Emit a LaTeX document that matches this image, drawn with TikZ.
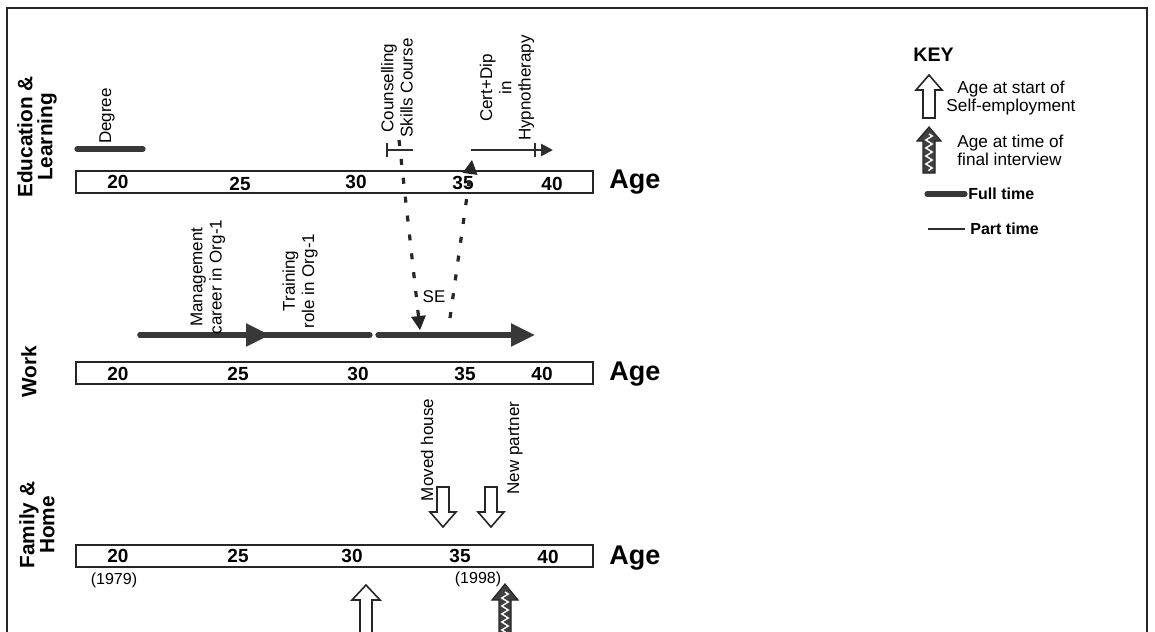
\documentclass[tikz,border=0pt]{standalone}
\usepackage{fontspec}
\setmainfont{Liberation Sans}
\usetikzlibrary{arrows.meta,decorations.pathmorphing}
\begin{document}
\begin{tikzpicture}[x=0.5pt,y=-0.5pt,
  bar/.style={draw=black!85, line width=1.3pt, fill=white},
  num/.style={font=\bfseries\fontsize{9.5}{10}\selectfont, inner sep=0pt},
  agelbl/.style={font=\bfseries\fontsize{13.5}{14}\selectfont, anchor=west, inner sep=0pt},
  sect/.style={font=\bfseries\fontsize{10.4}{10}\selectfont, rotate=90, align=center, inner sep=0pt},
  evt/.style={font=\fontsize{8.5}{9.6}\selectfont, rotate=90, align=center, inner sep=0pt},
  keytxt/.style={font=\fontsize{8.6}{9}\selectfont, anchor=west, inner sep=0pt},
  fulltime/.style={line width=2.6pt, draw=black!78, line cap=round},
  parttime/.style={line width=1.3pt, draw=black!82},
  tick/.style={line width=0.9pt, draw=black!82},
  dotarrow/.style={line width=1.6pt, dash pattern=on 3pt off 6.5pt, draw=black!85},
  hollow/.style={draw=black!85, line width=0.8pt, fill=white},
  checker/.style={draw=black!85, line width=0.6pt, fill=black!75},
  zz/.style={draw=white, line width=0.7pt, decorate, decoration={zigzag, segment length=4pt, amplitude=1.6pt}}
]
\useasboundingbox (0,0) rectangle (1155,631);
\clip (0,0) rectangle (1155,631);
% frame
\draw[line width=1.1pt, draw=black!85] (7,640) -- (7,8) -- (1147,8) -- (1147,640);

% ---------- section labels
\node[sect] (lEdu) at (37,137) {Education \&\\Learning};
\node[sect] (lWork) at (29,372) {Work};
\node[sect] (lFam) at (37,525) {Family \&\\Home};

% ---------- bars
\foreach \y/\nm in {182/edu, 373/work, 556/fam}{
  \draw[bar] (76,\y-11) rectangle (593,\y+11);
}
\node[agelbl] (ageE) at (609,182) {Age};
\node[agelbl] (ageW) at (609,374) {Age};
\node[agelbl] (ageF) at (609,558) {Age};

% numbers
\node[num] (e20) at (118,182) {20};
\node[num] (e25) at (240,184) {25};
\node[num] (e30) at (356,182) {30};
\node[num] (e35) at (463,183) {35};
\node[num] (e40) at (552,184) {40};
\node[num] (w20) at (118,374) {20};
\node[num] (w25) at (238,374) {25};
\node[num] (w30) at (358,374) {30};
\node[num] (w35) at (465,374) {35};
\node[num] (w40) at (542,374) {40};
\node[num] (f20) at (118,556) {20};
\node[num] (f25) at (238,556) {25};
\node[num] (f30) at (352,556) {30};
\node[num] (f35) at (460,556) {35};
\node[num] (f40) at (548,557) {40};

% ---------- education & learning
\coordinate (degA) at (77,149);
\coordinate (degB) at (143,149);
\draw[fulltime] (degA) -- (degB);
\node[evt] (degL) at (107,116) {Degree};

\coordinate (csA) at (386,150);
\coordinate (csB) at (413,150);
\draw[parttime] (csA) -- (csB);
\draw[tick] (387,143) -- (387,157);
\node[evt] (csL) at (397,88) {Counselling\\Skills Course};

\coordinate (cdA) at (471,150);
\coordinate (cdB) at (553,150);
\draw[parttime, -{Triangle[length=6pt,width=6pt]}] (cdA) -- (cdB);
\draw[tick] (535,143) -- (535,157);
\node[evt] (cdL) at (507,88) {Cert+Dip\\in\\Hypnotherapy};

% ---------- work
\coordinate (m1) at (140,335);
\coordinate (m1h) at (270,335);
\coordinate (m2) at (370,335);
\coordinate (s1) at (378,335);
\coordinate (s2) at (535,335);
\draw[fulltime] (m1) -- (m2);
\draw[fulltime, -{Triangle[length=12pt,width=11pt]}] (m1) -- (m1h);
\draw[fulltime, -{Triangle[length=12pt,width=11pt]}] (s1) -- (s2);
\node[evt] (mgL) at (208,277) {Management\\career in Org-1};
\node[evt] (trL) at (300,281) {Training\\role in Org-1};
\node[font=\fontsize{8.5}{9}\selectfont, inner sep=0pt] (seL) at (434,297) {SE};

% SE dotted arrows
\coordinate (seTop1) at (399,140);
\coordinate (seBot1) at (420,330);
\coordinate (seBot2) at (450,318);
\coordinate (seTop2) at (472,160);
\draw[dotarrow, -{Triangle[length=7pt,width=7.5pt,line width=0pt]}] (seTop1) -- (seBot1);
\draw[dotarrow, -{Triangle[length=7pt,width=7.5pt,line width=0pt]}] (seBot2) -- (seTop2);

% ---------- family & home
\node[evt] (mhL) at (427,450) {Moved house};
\node[evt] (npL) at (515,448) {New partner};
\draw[hollow] (443,527) -- (456,512) -- (449,512) -- (449,487) -- (437,487) -- (437,512) -- (430,512) -- cycle;
\draw[hollow] (491,527) -- (504,512) -- (497,512) -- (497,487) -- (485,487) -- (485,512) -- (478,512) -- cycle;
\node[font=\fontsize{8}{9}\selectfont, inner sep=0pt] (y79) at (114,580) {(1979)};
\node[font=\fontsize{8}{9}\selectfont, inner sep=0pt] (y98) at (478,579) {(1998)};
% start of self-employment (age 33)
\draw[hollow] (366,585) -- (380,600) -- (372,600) -- (372,650) -- (360,650) -- (360,600) -- (352,600) -- cycle;
% final interview
\draw[checker] (505,584) -- (518,600) -- (511,600) -- (511,650) -- (499,650) -- (499,600) -- (492,600) -- cycle;
\draw[zz] (505,592) -- (505,640);

% ---------- key
\node[font=\bfseries\fontsize{9.8}{10}\selectfont, anchor=west, inner sep=0pt] (keyT) at (913,55) {KEY};
\draw[hollow] (929,75) -- (942,90) -- (935,90) -- (935,118) -- (923,118) -- (923,90) -- (916,90) -- cycle;
\node[keytxt, align=center, anchor=center] (k1) at (1011,98) {Age at start of\\Self-employment};
\draw[checker] (929,127) -- (941,141) -- (935,141) -- (935,173) -- (923,173) -- (923,141) -- (917,141) -- cycle;
\draw[zz] (929,134) -- (929,171);
\node[keytxt, align=left] (k2) at (957,150) {Age at time of\\final interview};
\coordinate (kfA) at (927,194);
\coordinate (kfB) at (965,194);
\draw[fulltime] (kfA) -- (kfB);
\node[keytxt, font=\bfseries\fontsize{8}{9}\selectfont] (kf) at (968,194) {Full time};
\coordinate (kpA) at (928,229);
\coordinate (kpB) at (965,229);
\draw[parttime] (kpA) -- (kpB);
\node[keytxt, font=\bfseries\fontsize{8}{9}\selectfont] (kp) at (970,229) {Part time};
\end{tikzpicture}
\end{document}
